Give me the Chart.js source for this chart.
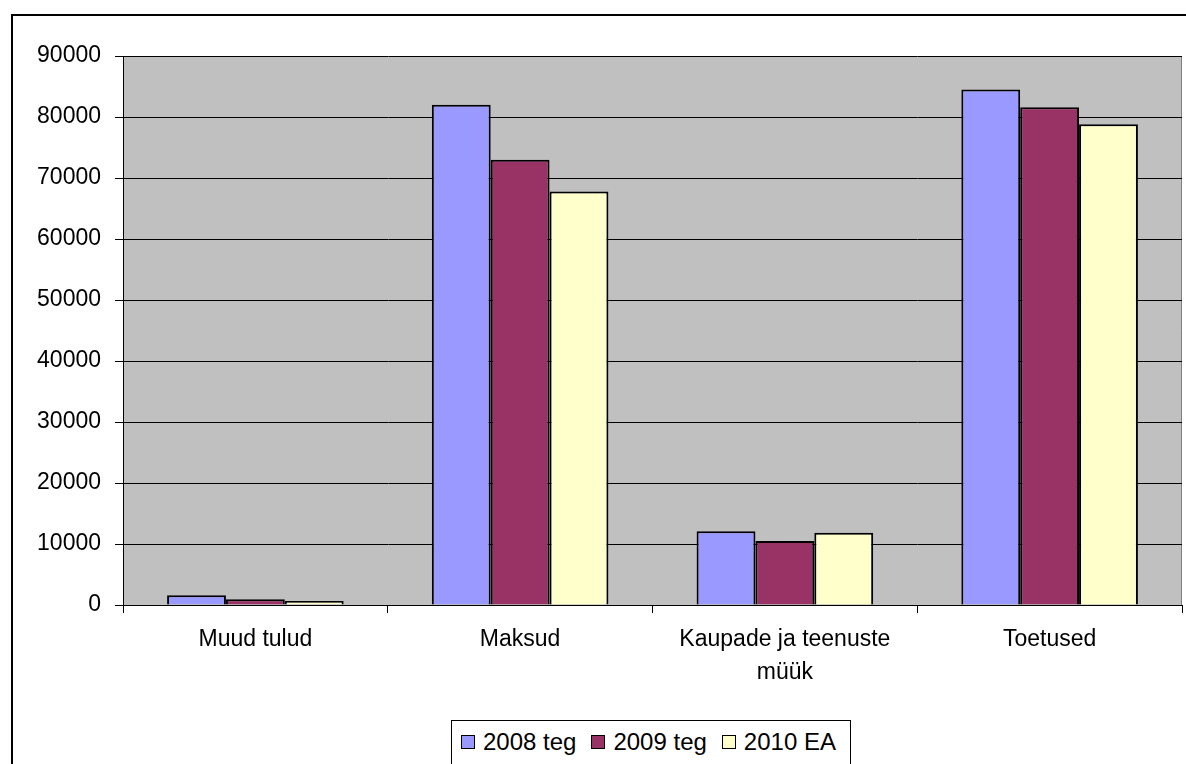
<!DOCTYPE html>
<html>
<head>
<meta charset="utf-8">
<script src="https://cdn.jsdelivr.net/npm/chart.js@4"></script>
<style>
    body { margin: 0; background: #fff; font-family: 'Liberation Sans', Arial, sans-serif; }
    #wrap { position: relative; width: 1186px; height: 764px; overflow: hidden; }
    #frame { position: absolute; left: 11px; top: 14px; width: 1200px; height: 800px; border: 2px solid #000; }
    #chart { position: absolute; left: 0; top: 0; }
    #legend {
        position: absolute; left: 451px; top: 720px; width: 400px; height: 60px;
        border: 1px solid #000; background: #fff; font-size: 24px; color: #000;
        display: flex; padding: 8px 0 0 9px; box-sizing: border-box; white-space: nowrap;
    }
    .item { display: flex; align-items: center; flex-shrink: 0; margin-right: 15px; height: 26px; }
    .box { width: 12px; height: 12px; border: 1px solid #000; margin-right: 8px; flex-shrink: 0; }
</style>
</head>
<body>
<div id="wrap">
    <div id="frame"></div>
    <canvas id="chart" width="1186" height="764"></canvas>
    <div id="legend"></div>
</div>
<script>
// Chart data
const categories = ['Muud tulud', 'Maksud', ['Kaupade ja teenuste', 'müük'], 'Toetused'];
const seriesNames = ['2008 teg', '2009 teg', '2010 EA'];
const values2008 = [1600, 82000, 12100, 84500];
const values2009 = [950, 73000, 10500, 81600];
const values2010 = [650, 67800, 11850, 78800];
const yTicks = [0, 10000, 20000, 30000, 40000, 50000, 60000, 70000, 80000, 90000];
const seriesColors = ['#9999FF', '#993366', '#FFFFCC'];

// Gray plot area + right border
const plotBackground = {
    id: 'plotBackground',
    beforeDraw(chart) {
        const { ctx, chartArea: a } = chart;
        ctx.save();
        ctx.fillStyle = '#C0C0C0';
        ctx.fillRect(a.left, a.top, a.right - a.left, a.bottom - a.top);
        ctx.strokeStyle = '#808080';
        ctx.lineWidth = 1;
        ctx.beginPath();
        ctx.moveTo(a.right - 0.5, a.top);
        ctx.lineTo(a.right - 0.5, a.bottom);
        ctx.stroke();
        ctx.restore();
    }
};

const datasets = [values2008, values2009, values2010].map((data, i) => ({
    label: seriesNames[i],
    data: data,
    backgroundColor: seriesColors[i],
    borderColor: '#000',
    borderWidth: 2,
    borderSkipped: 'bottom',
    categoryPercentage: 0.667,
    barPercentage: 1.0
}));

Chart.defaults.font.family = "'Liberation Sans', Arial, sans-serif";
Chart.defaults.font.size = 23;
Chart.defaults.color = '#000';

const ctx = document.getElementById('chart').getContext('2d');
new Chart(ctx, {
    type: 'bar',
    data: { labels: categories, datasets: datasets },
    options: {
        responsive: false,
        animation: false,
        layout: { padding: { top: 56, right: 4, left: 0, bottom: 0 } },
        plugins: {
            legend: { display: false },
            tooltip: { enabled: false }
        },
        scales: {
            x: {
                grid: { display: true, drawOnChartArea: false, offset: true, color: '#000', tickLength: 8 },
                border: { color: '#000', width: 1 },
                ticks: { padding: 10, maxRotation: 0, autoSkip: false, font: { size: 23, lineHeight: 1.43 } },
                afterFit(scale) { scale.height = 159; }
            },
            y: {
                min: yTicks[0],
                max: yTicks[yTicks.length - 1],
                afterBuildTicks(scale) { scale.ticks = yTicks.map(v => ({ value: v })); },
                ticks: { padding: 14, callback: v => String(v) },
                grid: { color: '#000', tickLength: 8 },
                border: { color: '#000', width: 1 },
                afterFit(scale) { scale.width = 123; }
            }
        }
    },
    plugins: [plotBackground]
});

// HTML legend
const legend = document.getElementById('legend');
seriesNames.forEach((name, i) => {
    const item = document.createElement('div');
    item.className = 'item';
    item.innerHTML = '<span class="box" style="background:' + seriesColors[i] + '"></span>' + name;
    legend.appendChild(item);
});
</script>
</body>
</html>
